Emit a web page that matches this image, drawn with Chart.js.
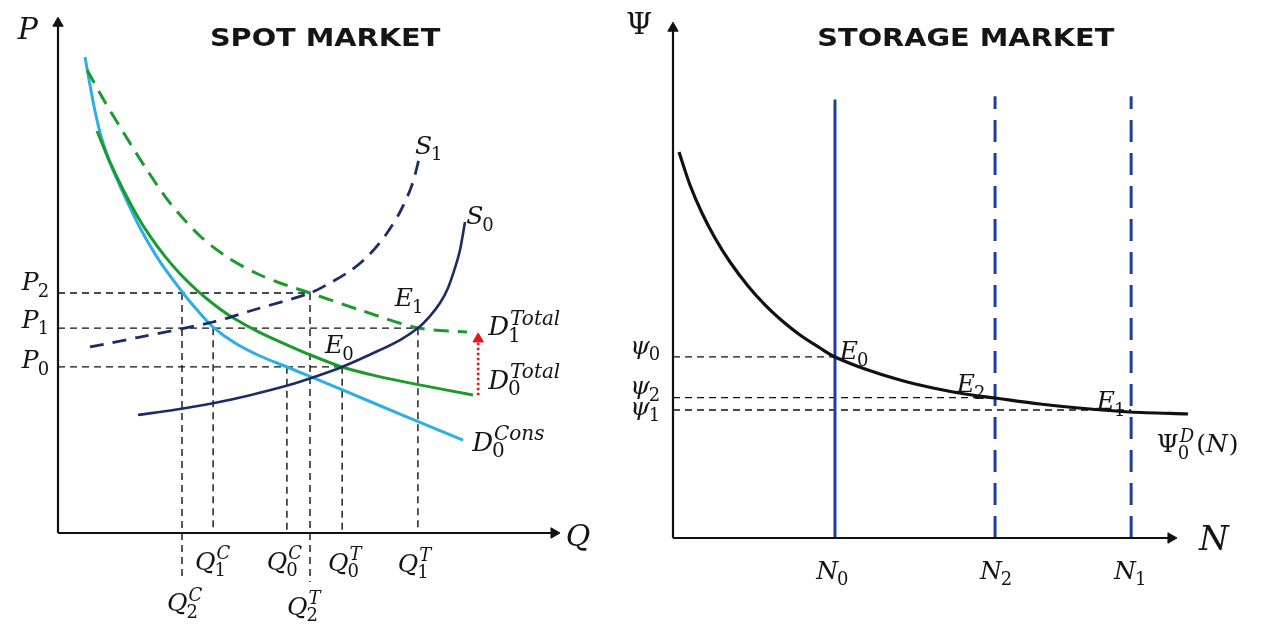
<!DOCTYPE html>
<html>
<head>
<meta charset="utf-8">
<script src="https://cdn.jsdelivr.net/npm/chart.js@4.4.0/dist/chart.umd.min.js"></script>
<style>
    html, body { margin: 0; padding: 0; background: #fff; overflow: hidden; }
    #wrap { position: relative; width: 1272px; height: 635px; }
    canvas { position: absolute; top: 0; }
    #spot { left: 0; }
    #storage { left: 590px; }
</style>
</head>
<body>
<div id="wrap">
    <canvas id="spot" width="590" height="635"></canvas>
    <canvas id="storage" width="682" height="635"></canvas>
</div>
<script>
// ### SPOT MARKET DATA ([Q, P] pairs, axis units 0-100) ###
const consDemand0 = [[5.38, 92.25], [6.37, 86.82], [7.37, 81.78], [8.57, 76.94], [10.36, 71.71], [13.35, 65.12],
    [16.33, 59.17], [20.32, 52.58], [24.9, 46.51], [27.89, 43.02], [30.88, 39.92], [35.26, 36.82], [40.24, 34.3],
    [45.62, 32.17], [56.18, 27.91], [68.13, 23.06], [80.68, 18.02]];
const totalDemand0 = [[7.77, 77.91], [10.36, 71.86], [12.95, 66.57], [15.74, 61.55], [18.33, 57.52], [21.31, 53.6],
    [24.3, 50.25], [27.69, 47.02], [31.27, 44.15], [34.86, 41.71], [40.24, 38.82], [45.62, 36.45], [50.2, 34.53],
    [56.57, 32.17], [63.15, 30.5], [70.72, 28.95], [82.67, 26.74]];
const totalDemand1 = [[5.78, 89.73], [9.36, 83.53], [13.35, 77.13], [17.73, 70.35], [22.31, 63.95], [28.29, 57.56],
    [34.26, 53.1], [40.24, 50.0], [44.22, 48.45], [50.2, 46.51], [60.76, 43.02], [71.71, 39.73], [81.47, 38.95]];
const supply0 = [[15.94, 22.87], [23.31, 23.88], [30.88, 25.14], [38.25, 26.71], [46.22, 28.72], [52.19, 30.62],
    [56.57, 32.17], [64.14, 35.47], [68.13, 37.4], [71.71, 39.73], [74.1, 42.05], [76.1, 44.57], [77.69, 47.48],
    [79.08, 51.36], [80.08, 54.84], [81.08, 60.27]];
const supply1 = [[6.37, 36.05], [16.33, 37.98], [30.88, 40.89], [38.25, 43.02], [50.2, 46.51], [54.18, 48.45],
    [58.17, 50.78], [61.75, 53.68], [65.14, 57.56], [68.13, 62.21], [70.52, 67.44], [72.11, 73.26]];

// price levels P0, P1, P2 and quantity levels
const priceValues = [32.2, 39.7, 46.5];
const qConsValues = [45.6, 30.9, 24.7];   // Q0C, Q1C, Q2C
const qTotalValues = [56.6, 71.7, 50.2];  // Q0T, Q1T, Q2T
const demandShift = [26.7, 38.8];         // D0Total -> D1Total at Q = 83.7

// ### STORAGE MARKET DATA ([N, psi] pairs) ###
const storageDemand = [[1.19, 74.81], [3.37, 68.41], [5.75, 62.98], [8.33, 58.14], [11.31, 53.49], [14.88, 48.84],
    [18.25, 45.16], [21.23, 42.44], [25.2, 39.34], [29.17, 36.82], [32.14, 35.08], [38.1, 32.75], [45.04, 30.62],
    [51.59, 29.07], [57.94, 27.91], [63.89, 27.13], [72.82, 25.97], [82.74, 25.0], [90.67, 24.42], [102.18, 24.03]];
const nValues = [32.14, 90.9, 63.9];      // N0, N1, N2
const psiValues = [35.1, 24.8, 27.2];     // psi0, psi1, psi2
const capacityTop = 85;

const NAVY = '#1c2d66';
const ROYAL = '#1f3f9c';
const GREEN = '#1c9a2e';
const SKY = '#2eaee4';
const RED = '#e3161c';
const SERIF = '"DejaVu Serif", serif';

function pts(list) {
    return list.map(p => ({ x: p[0], y: p[1] }));
}

function curve(list, color, width, dash) {
    return {
        data: pts(list), borderColor: color, borderWidth: width, borderDash: dash || [],
        pointRadius: 0, tension: 0.3, fill: false, clip: false
    };
}

function seg(list, color, width, dash) {
    return {
        data: pts(list), borderColor: color, borderWidth: width, borderDash: dash || [],
        pointRadius: 0, tension: 0, fill: false, clip: false
    };
}

// line ending with a triangle head
function arrow(list, color, width, dash, rot) {
    const d = seg(list, color, width, dash);
    d.pointRadius = list.map((p, i) => i === list.length - 1 ? 6 : 0);
    d.pointStyle = 'triangle';
    d.pointRotation = rot;
    d.pointBackgroundColor = color;
    d.pointBorderColor = color;
    d.pointBorderWidth = 1;
    return d;
}

// draw symbol with sub/superscript
function drawLabel(ctx, px, py, it) {
    ctx.save();
    ctx.fillStyle = '#151515';
    ctx.textBaseline = 'alphabetic';
    ctx.textAlign = 'left';
    if (it.title) {
        ctx.font = 'bold ' + it.size + 'px "DejaVu Sans", sans-serif';
        ctx.textAlign = 'center';
        ctx.translate(px, py + it.size * 0.36);
        ctx.scale(1.15, 1);
        ctx.fillText(it.title, 0, 0);
        ctx.restore();
        return;
    }
    const size = it.size || 25;
    const baseFont = (it.upright ? '' : 'italic ') + size + 'px ' + SERIF;
    ctx.font = baseFont;
    const w = ctx.measureText(it.base).width;
    const x0 = it.align === 'center' ? px - w / 2 : px;
    const baseline = py + size * 0.36;
    ctx.fillText(it.base, x0, baseline);
    const small = it.small || Math.round(size * 0.7);
    let x = x0 + w;
    let extra = 0;
    if (it.sub) {
        ctx.font = small + 'px ' + SERIF;
        ctx.fillText(it.sub, x - 1, baseline + size * 0.26);
        extra = ctx.measureText(it.sub).width;
    }
    if (it.sup) {
        ctx.font = 'italic ' + small + 'px ' + SERIF;
        ctx.fillText(it.sup, x + 1, baseline - size * 0.42);
        extra = Math.max(extra, ctx.measureText(it.sup).width);
    }
    if (it.tail) {
        // "(N)" with italic N
        ctx.font = size + 'px ' + SERIF;
        let tx = x + extra + 3;
        ctx.fillText('(', tx, baseline);
        tx += ctx.measureText('(').width;
        ctx.font = 'italic ' + size + 'px ' + SERIF;
        ctx.fillText(it.tail, tx, baseline);
        tx += ctx.measureText(it.tail).width + 1;
        ctx.font = size + 'px ' + SERIF;
        ctx.fillText(')', tx, baseline);
    }
    ctx.restore();
}

function labelPlugin(items) {
    return {
        id: 'mathLabels',
        afterDatasetsDraw(chart) {
            const { ctx, scales: { x, y } } = chart;
            items.forEach(it => drawLabel(ctx, x.getPixelForValue(it.x), y.getPixelForValue(it.y), it));
        }
    };
}

function baseOptions(padding) {
    return {
        responsive: false,
        animation: false,
        events: [],
        layout: { padding: padding },
        plugins: { legend: { display: false }, tooltip: { enabled: false } },
        scales: {
            x: { type: 'linear', min: 0, max: 100, display: false },
            y: { type: 'linear', min: 0, max: 100, display: false }
        }
    };
}

const GUIDE = [7, 5];

// ### SPOT MARKET ###
function renderSpot() {
    const [P0, P1, P2] = priceValues;
    const [QC0, QC1, QC2] = qConsValues;
    const [QT0, QT1, QT2] = qTotalValues;
    const datasets = [
        arrow([[0, 0], [98.8, 0]], '#111', 2.2, [], 90),
        arrow([[0, 0], [0, 98.8]], '#111', 2.2, [], 0),
        curve(supply0, NAVY, 2.6),
        curve(supply1, NAVY, 2.8, [14, 9]),
        curve(totalDemand1, GREEN, 3, [15, 9]),
        curve(totalDemand0, GREEN, 3),
        curve(consDemand0, SKY, 3),
        arrow([[83.7, demandShift[0]], [83.7, demandShift[1] - 1.2]], RED, 2.6, [2.5, 2.5], 0),
        // guides
        seg([[0, P2], [QT2, P2]], '#111', 1.4, GUIDE),
        seg([[0, P1], [QT1, P1]], '#111', 1.4, GUIDE),
        seg([[0, P0], [QT0, P0]], '#111', 1.4, GUIDE),
        seg([[QC2, P2], [QC2, -8.5]], '#111', 1.4, GUIDE),
        seg([[QC1, P1], [QC1, 0]], '#111', 1.4, GUIDE),
        seg([[QC0, P0], [QC0, 0]], '#111', 1.4, GUIDE),
        seg([[QT2, P2], [QT2, -9.5]], '#111', 1.4, GUIDE),
        seg([[QT0, P0], [QT0, 0]], '#111', 1.4, GUIDE),
        seg([[QT1, P1], [QT1, 0]], '#111', 1.4, GUIDE)
    ];
    const items = [
        { title: 'SPOT MARKET', x: 53.2, y: 96.1, size: 25 },
        { base: 'P', x: -6.0, y: 97.9, size: 30, align: 'center' },
        { base: 'Q', x: 103.6, y: -0.4, size: 30, align: 'center' },
        { base: 'S', sub: '1', x: 71.1, y: 75.2 },
        { base: 'S', sub: '0', x: 81.3, y: 61.6 },
        { base: 'E', sub: '1', x: 67.1, y: 45.7 },
        { base: 'E', sub: '0', x: 53.2, y: 36.6 },
        { base: 'D', sub: '1', sup: 'Total', x: 85.7, y: 40.1, size: 26, small: 20 },
        { base: 'D', sub: '0', sup: 'Total', x: 85.7, y: 29.8, size: 26, small: 20 },
        { base: 'D', sub: '0', sup: 'Cons', x: 82.5, y: 17.8, size: 26, small: 20 },
        { base: 'P', sub: '2', x: -7.2, y: P2 + 2.3 },
        { base: 'P', sub: '1', x: -7.2, y: P1 + 1.8 },
        { base: 'P', sub: '0', x: -7.2, y: P0 + 1.5 },
        { base: 'Q', sup: 'C', sub: '1', x: 27.3, y: -5.4 },
        { base: 'Q', sup: 'C', sub: '0', x: 41.6, y: -5.4 },
        { base: 'Q', sup: 'T', sub: '0', x: 53.8, y: -5.6 },
        { base: 'Q', sup: 'T', sub: '1', x: 67.7, y: -5.8 },
        { base: 'Q', sup: 'C', sub: '2', x: 21.7, y: -13.4 },
        { base: 'Q', sup: 'T', sub: '2', x: 45.6, y: -14.1 }
    ];
    new Chart(document.getElementById('spot'), {
        type: 'line',
        data: { datasets },
        options: baseOptions({ left: 58, right: 30, top: 17, bottom: 102 }),
        plugins: [labelPlugin(items)]
    });
}

// ### STORAGE MARKET ###
function renderStorage() {
    const [N0, N1, N2] = nValues;
    const [s0, s1, s2] = psiValues;
    const datasets = [
        arrow([[0, 0], [98.8, 0]], '#111', 2.2, [], 90),
        arrow([[0, 0], [0, 98.8]], '#111', 2.2, [], 0),
        curve(storageDemand, '#111', 3.2),
        seg([[N0, 0], [N0, capacityTop]], ROYAL, 3),
        seg([[N2, 0], [N2, capacityTop + 0.6]], ROYAL, 3, [22, 11]),
        seg([[N1, 0], [N1, capacityTop + 0.6]], ROYAL, 3, [22, 11]),
        seg([[0, s0], [N0, s0]], '#111', 1.4, GUIDE),
        seg([[0, s2], [N2, s2]], '#111', 1.4, GUIDE),
        seg([[0, s1], [N1, s1]], '#111', 1.4, GUIDE)
    ];
    const items = [
        { title: 'STORAGE MARKET', x: 58.1, y: 97.1, size: 25 },
        { base: 'Ψ', x: -6.7, y: 99.8, size: 30, upright: true, align: 'center' },
        { base: 'N', x: 107.3, y: 0, size: 34, align: 'center' },
        { base: 'ψ', sub: '0', x: -8.5, y: s0 + 2.4 },
        { base: 'ψ', sub: '2', x: -8.5, y: s2 + 2.4 },
        { base: 'ψ', sub: '1', x: -8.5, y: s1 + 0.8 },
        { base: 'E', sub: '0', x: 33.1, y: 36.4 },
        { base: 'E', sub: '2', x: 56.3, y: 30.0 },
        { base: 'E', sub: '1', x: 84.1, y: 26.7 },
        { base: 'Ψ', sub: '0', sup: 'D', tail: 'N', x: 96.0, y: 18.4, upright: true },
        { base: 'N', sub: '0', x: 28.4, y: -6.2 },
        { base: 'N', sub: '2', x: 60.9, y: -6.2 },
        { base: 'N', sub: '1', x: 87.5, y: -6.2 }
    ];
    new Chart(document.getElementById('storage'), {
        type: 'line',
        data: { datasets },
        options: baseOptions({ left: 83, right: 95, top: 22, bottom: 97 }),
        plugins: [labelPlugin(items)]
    });
}

renderSpot();
renderStorage();
</script>
</body>
</html>
